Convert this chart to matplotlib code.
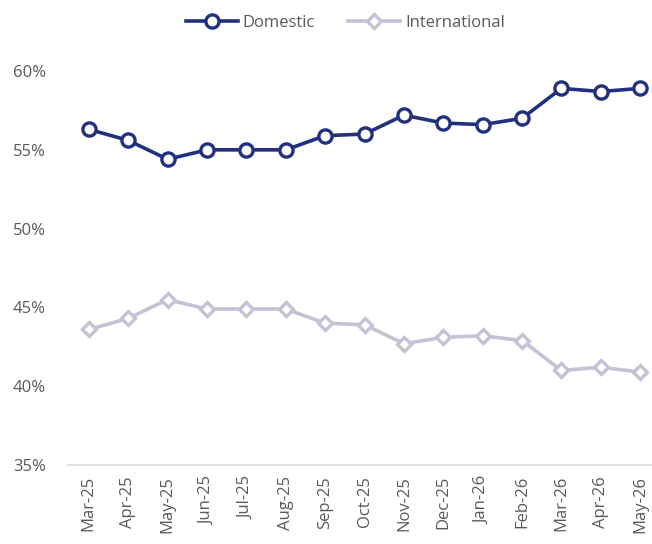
import matplotlib
matplotlib.use('Agg')
import matplotlib.pyplot as plt
from matplotlib.ticker import PercentFormatter

months = ['Mar-25', 'Apr-25', 'May-25', 'Jun-25', 'Jul-25', 'Aug-25', 'Sep-25',
          'Oct-25', 'Nov-25', 'Dec-25', 'Jan-26', 'Feb-26', 'Mar-26', 'Apr-26', 'May-26']
domestic = [56.3, 55.6, 54.4, 55.0, 55.0, 55.0, 55.9, 56.0, 57.2, 56.7, 56.6, 57.0, 58.9, 58.7, 58.9]
international = [43.6, 44.3, 45.5, 44.9, 44.9, 44.9, 44.0, 43.9, 42.7, 43.1, 43.2, 42.9, 41.0, 41.2, 40.9]

navy = '#22317f'
lav = '#c3c3d5'
txt = '#595959'

plt.rcParams['font.family'] = ['Open Sans', 'DejaVu Sans']

fig = plt.figure(figsize=(6.52, 5.44), dpi=100)
ax = fig.add_axes([68 / 652, 1 - 465 / 544, 1 - 68 / 652, (465 - 40) / 544])

x = range(len(months))
ax.plot(x, domestic, color=navy, lw=2.6, marker='o', ms=9.5, mfc='white',
        mec=navy, mew=2.4, label='Domestic', zorder=3)
ax.plot(x, international, color=lav, lw=2.6, marker='D', ms=7, mfc='white',
        mec=lav, mew=2.4, label='International', zorder=2)

ax.set_xlim(-0.53, 14.3)
ax.set_ylim(35, 61.97)
ax.set_yticks([35, 40, 45, 50, 55, 60])
ax.yaxis.set_major_formatter(PercentFormatter(decimals=0))
ax.set_xticks(list(x))
ax.set_xticklabels(months, rotation=90)
ax.tick_params(axis='both', length=0, labelsize=12, labelcolor=txt)
ax.tick_params(axis='y', pad=16)
ax.tick_params(axis='x', pad=8)

for s in ['top', 'right', 'left']:
    ax.spines[s].set_visible(False)
ax.spines['bottom'].set_color('#d9d9d9')
ax.spines['bottom'].set_linewidth(1.2)

leg = fig.legend(loc='upper center', bbox_to_anchor=(0.53, 1.0), ncol=2, frameon=False,
                 fontsize=12, handlelength=3.1, columnspacing=2.0, handletextpad=0.3)
for t in leg.get_texts():
    t.set_color(txt)

fig.savefig('out.png', dpi=100)
